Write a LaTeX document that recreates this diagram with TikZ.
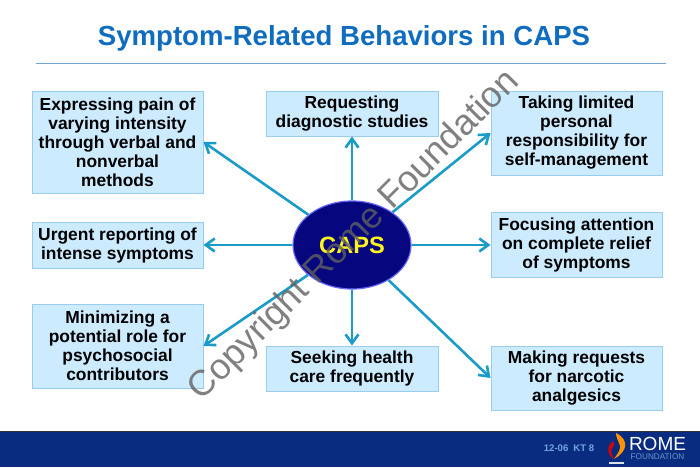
\documentclass[tikz,border=0pt]{standalone}
\usepackage{fontspec}
\setmainfont{Liberation Sans}
\usetikzlibrary{arrows.meta,shapes.geometric}
\definecolor{boxfill}{HTML}{CCEBFF}
\definecolor{boxline}{HTML}{99CCEE}
\definecolor{arrowc}{HTML}{1A9BC8}
\definecolor{titlec}{HTML}{0F6CBF}
\definecolor{navy}{HTML}{06067E}
\definecolor{foot}{HTML}{0A2C80}
\tikzset{
  boxa/.style={draw=boxline,fill=boxfill,line width=1pt,minimum width=171pt,align=center,inner sep=0pt,font=\fontsize{17.4}{19}\selectfont\bfseries,text=black},
  boxb/.style={boxa,minimum width=172pt},
  conn/.style={draw=arrowc,line width=2.6pt,-{Straight Barb[length=9pt,width=13pt,line width=2.6pt]}},
}
\begin{document}
\begin{tikzpicture}[x=1pt,y=-1pt]
\useasboundingbox (0,0) rectangle (700,467);
\fill[white] (0,0) rectangle (700,467);
\node[font=\fontsize{27.6}{30}\selectfont\bfseries,text=titlec] (title) at (344,38.5) {Symptom-Related Behaviors in CAPS};
\coordinate (ruleL) at (36,63.5); \coordinate (ruleR) at (666,63.5);
\draw[draw=titlec!60,line width=.8pt] (ruleL) -- (ruleR);

\node[boxa,minimum height=102pt] (b1) at (117.5,142) {Expressing pain of\\varying intensity\\through verbal and\\nonverbal\\methods};
\node[boxb,minimum height=45pt] (b2) at (352,113.5) {Requesting\\diagnostic studies};
\node[boxa,minimum height=84pt] (b3) at (576.5,133) {Taking limited\\personal\\responsibility for\\self-management};
\node[boxa,minimum height=46pt] (b4) at (117.5,245) {Urgent reporting of\\intense symptoms};
\node[boxa,minimum height=65pt] (b5) at (576.5,245) {Focusing attention\\on complete relief\\of symptoms};
\node[boxa,minimum height=84pt] (b6) at (117.5,346) {Minimizing a\\potential role for\\psychosocial\\contributors};
\node[boxb,minimum height=45pt] (b7) at (352,368.5) {Seeking health\\care frequently};
\node[boxa,minimum height=64pt] (b8) at (576.5,378) {Making requests\\for narcotic\\analgesics};

\node[ellipse,draw=blue!60!white,line width=1.2pt,fill=navy,minimum width=118pt,minimum height=88pt,inner sep=0pt,font=\fontsize{23.6}{26}\selectfont\bfseries,text={rgb,255:red,255;green,245;blue,30}] (caps) at (352,245) {CAPS};

\foreach \t/\a in {b1/east,b2/south,b3/west,b4/east,b5/west,b6/east,b7/north,b8/west}
  \draw[conn] (caps) -- (\t.\a);

\node[rotate=45,text=black!62,opacity=.8,font=\fontsize{36}{40}\selectfont] (wm) at (354.5,236) {Copyright Rome Foundation};

\fill[foot] (0,432) rectangle (700,467);
\draw[black!80,line width=1pt] (0,431.5) -- (700,431.5);
\node[text={rgb,255:red,110;green,165;blue,225},font=\fontsize{9.6}{10}\selectfont\bfseries] (code) at (569,448) {12-06\hspace{5pt}KT 8};
\node[text=white,font=\fontsize{19}{20}\selectfont,inner sep=0pt] (rome) at (657.5,444) {ROME};
\node[text={rgb,255:red,110;green,150;blue,200},font=\fontsize{8.2}{9}\selectfont,inner sep=0pt] (fnd) at (657.5,457) {FOUNDATION};
\fill[orange!85!yellow] (616,433) .. controls (630,440) and (627,452) .. (614,459) .. controls (619,452) and (622,447) .. (619,443) .. controls (618,440) and (616,437) .. (616,433) -- cycle;
\fill[red!85!black] (613,441) .. controls (606,447) and (607,455) .. (614,459) .. controls (611,453) and (610,450) .. (613,447) .. controls (615,445) and (614,443) .. (613,441) -- cycle;
\fill[white!85!foot] (609,461.5) rectangle (624,463.5);
\end{tikzpicture}
\end{document}
